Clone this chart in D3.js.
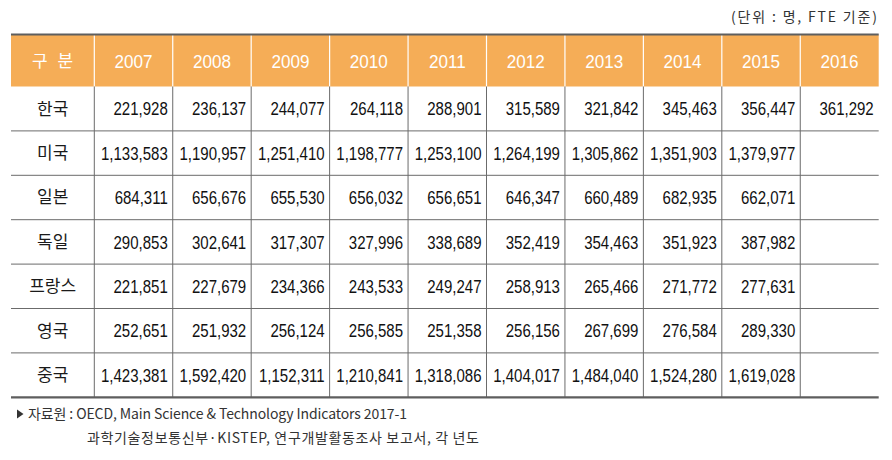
<!DOCTYPE html>
<html><head><meta charset="utf-8">
<script src="https://cdn.jsdelivr.net/npm/d3@7"></script>
<style>
body{margin:0;background:#fff;}
svg{display:block;}
</style></head>
<body>
<script>
const years = ["2007","2008","2009","2010","2011","2012","2013","2014","2015","2016"];
const countries = ["한국","미국","일본","독일","프랑스","영국","중국"];
const korea   = [221928,236137,244077,264118,288901,315589,321842,345463,356447,361292];
const usa     = [1133583,1190957,1251410,1198777,1253100,1264199,1305862,1351903,1379977,null];
const japan   = [684311,656676,655530,656032,656651,646347,660489,682935,662071,null];
const germany = [290853,302641,317307,327996,338689,352419,354463,351923,387982,null];
const france  = [221851,227679,234366,243533,249247,258913,265466,271772,277631,null];
const uk      = [252651,251932,256124,256585,251358,256156,267699,276584,289330,null];
const china   = [1423381,1592420,1152311,1210841,1318086,1404017,1484040,1524280,1619028,null];
const headerLabel = "구 분";
const unitNote = "(단위 : 명, FTE 기준)";
const source1 = "자료원 : OECD, Main Science & Technology Indicators 2017-1";
const source2 = "과학기술정보통신부·KISTEP, 연구개발활동조사 보고서, 각 년도";

const rows = [korea, usa, japan, germany, france, uk, china];

const W = 892, H = 460;
const svg = d3.select("body").append("svg").attr("width", W).attr("height", H);

const left = 11, firstColRight = 94.3, right = 878.7;
const headTop = 34.5, headBottom = 86.5, bodyBottom = 397.3;

const x = d3.scaleBand().domain(years).range([firstColRight, right]).paddingInner(0).paddingOuter(0);
const y = d3.scaleBand().domain(countries).range([headBottom, bodyBottom]);

const fmt = d3.format(",");

// header background
svg.append("rect").attr("x", left).attr("y", headTop).attr("width", right - left)
  .attr("height", headBottom - headTop).attr("fill", "#F5AD57");

// header separators (white)
const sepXs = [firstColRight].concat(years.slice(1).map(d => x(d)));
svg.selectAll("line.hsep").data(sepXs).enter().append("line")
  .attr("x1", d => d).attr("x2", d => d).attr("y1", headTop).attr("y2", headBottom)
  .attr("stroke", "#fff").attr("stroke-width", 1.2);

// header text
const hy = (headTop + headBottom) / 2 + 1;
svg.append("text").attr("x", (left + firstColRight) / 2).attr("y", hy).attr("dy", "0.35em")
  .attr("text-anchor", "middle").attr("fill", "#fff")
  .style("font-family", "'Noto Sans CJK KR', sans-serif").style("font-size", "17px")
  .style("word-spacing", "6px")
  .text(headerLabel);
svg.selectAll("text.year").data(years).enter().append("text")
  .attr("transform", d => `translate(${x(d) + x.bandwidth() / 2},${hy}) scale(0.9,1)`)
  .attr("dy", "0.35em").attr("text-anchor", "middle").attr("fill", "#fff")
  .style("font-family", "'Liberation Sans', Arial, sans-serif").style("font-size", "19px")
  .text(d => d);

// body horizontal lines
svg.selectAll("line.rsep").data(countries.slice(1)).enter().append("line")
  .attr("x1", left).attr("x2", right).attr("y1", d => y(d)).attr("y2", d => y(d))
  .attr("stroke", "#6b6b6b").attr("stroke-width", 1);

// body vertical lines
svg.selectAll("line.vsep").data(sepXs).enter().append("line")
  .attr("x1", d => d).attr("x2", d => d).attr("y1", headBottom).attr("y2", bodyBottom)
  .attr("stroke", "#6b6b6b").attr("stroke-width", 1);

// top / bottom thick borders
svg.append("line").attr("x1", left).attr("x2", right).attr("y1", headTop).attr("y2", headTop)
  .attr("stroke", "#5e5e5e").attr("stroke-width", 2.2);
svg.append("line").attr("x1", left).attr("x2", right).attr("y1", bodyBottom).attr("y2", bodyBottom)
  .attr("stroke", "#5e5e5e").attr("stroke-width", 2.2);

// row labels
svg.selectAll("text.rowlab").data(countries).enter().append("text")
  .attr("x", (left + firstColRight) / 2).attr("y", d => y(d) + y.bandwidth() / 2)
  .attr("dy", "0.35em").attr("text-anchor", "middle").attr("fill", "#1a1a1a")
  .style("font-family", "'Noto Sans CJK KR', sans-serif").style("font-size", "17px")
  .text(d => d);

// cells
const cells = [];
rows.forEach((r, i) => r.forEach((v, j) => { if (v != null) cells.push({c: countries[i], yr: years[j], v}); }));
svg.selectAll("text.cell").data(cells).enter().append("text")
  .attr("transform", d => `translate(${x(d.yr) + x.bandwidth() - 5},${y(d.c) + y.bandwidth() / 2}) scale(0.79,1)`)
  .attr("dy", "0.35em").attr("text-anchor", "end").attr("fill", "#111")
  .style("font-family", "'Liberation Sans', Arial, sans-serif").style("font-size", "19px")
  .text(d => fmt(d.v));

// unit note
svg.append("text").attr("x", 731).attr("y", 17.5).attr("dy", "0.35em").attr("text-anchor", "start")
  .attr("fill", "#333").style("font-family", "'Noto Sans CJK KR', sans-serif").style("font-size", "14px")
  .attr("textLength", 146).attr("lengthAdjust", "spacing")
  .text(unitNote);

// source
svg.append("path").attr("d", "M17,409.5 L23.5,414 L17,418.5 Z").attr("fill", "#333");
svg.append("text").attr("x", 28).attr("y", 414.5).attr("dy", "0.35em")
  .attr("fill", "#333").style("font-family", "'Noto Sans CJK KR', sans-serif").style("font-size", "14px")
  .attr("textLength", 379).attr("lengthAdjust", "spacing")
  .text(source1);
svg.append("text").attr("x", 87).attr("y", 438).attr("dy", "0.35em")
  .attr("fill", "#333").style("font-family", "'Noto Sans CJK KR', sans-serif").style("font-size", "14px")
  .attr("textLength", 392).attr("lengthAdjust", "spacing")
  .text(source2);
</script>
</body></html>
